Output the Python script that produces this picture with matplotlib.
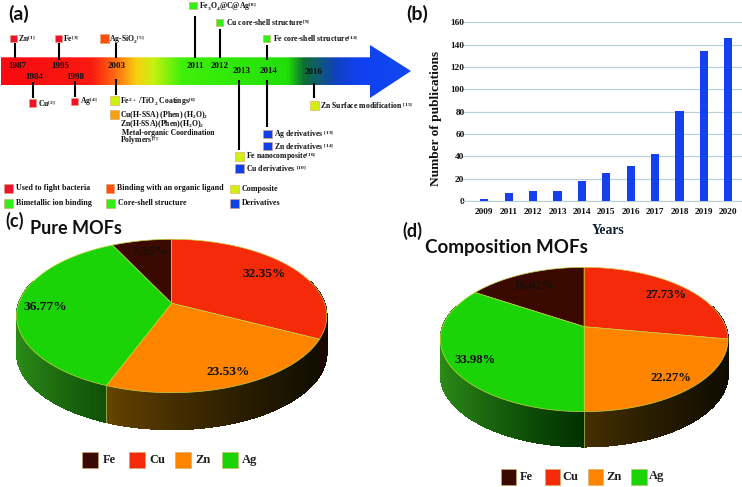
import numpy as np
import matplotlib
import matplotlib.pyplot as plt
from matplotlib.colors import LinearSegmentedColormap, to_rgb
from matplotlib.patches import Polygon, Rectangle
matplotlib.use('Agg')

plt.rcParams['font.family'] = ['Liberation Serif', 'DejaVu Serif']
plt.rcParams['font.weight'] = 'bold'
plt.rcParams['mathtext.fontset'] = 'custom'
plt.rcParams['mathtext.default'] = 'regular'
plt.rcParams['mathtext.rm'] = 'Liberation Serif:bold'
plt.rcParams['mathtext.bf'] = 'Liberation Serif:bold'

# publications per year
years = ['2009', '2011', '2012', '2013', '2014', '2015', '2016', '2017', '2018', '2019', '2020']
publications = [2, 7, 9, 9, 18, 25, 31, 42, 81, 134, 146]

# pie shares, Fe ends at the top of the pie and the rest go clockwise from there
metals = ['Fe', 'Cu', 'Zn', 'Ag']
pure_mofs = [7.35, 32.35, 23.53, 36.77]
composition_mofs = [16.02, 27.73, 22.27, 33.98]

# categories of the timeline
legend_labels = ['Used to fight bacteria', 'Binding with an organic ligand', 'Composite',
                 'Bimetallic ion binding', 'Core-shell structure', 'Derivatives']

RED = '#f01030'
ORANGE = '#ff5010'
LIME = '#d0f010'
GREEN = '#30f018'
BLUE = '#1040e8'
metal_colors = ['#3a0a00', '#f52a08', '#ff8400', '#1ad408']

fig = plt.figure(figsize=(7.42, 4.87), dpi=100)
ax = fig.add_axes([0, 0, 1, 1])
ax.set_xlim(0, 742)
ax.set_ylim(487, 0)
ax.axis('off')


def small(x, y, s, size=5.6):
    ax.text(x, y, s, fontsize=size, ha='left', va='center', color='#101010')


def square(x, y, color, size=7.5):
    ax.add_patch(Rectangle((x - size / 2, y - size / 2), size, size, fc=color,
                           ec='#e0a060', lw=0.4, zorder=4))


def stem(x, y0, y1):
    ax.plot([x, x], [y0, y1], color='black', lw=1.5, solid_capstyle='butt', zorder=3)


# arrow with the colour gradient
arrow = Polygon([(1, 57.3), (370, 57.3), (370, 45), (411, 71), (370, 98), (370, 85), (1, 85)],
                closed=True, fc='none', ec='none')
ax.add_patch(arrow)
arrow_cmap = LinearSegmentedColormap.from_list('arrow', [
    (0.0, '#f80a10'), (0.22, '#fa1a10'), (0.28, '#ff7010'), (0.33, '#f8d010'),
    (0.37, '#c8f010'), (0.44, '#40f008'), (0.70, '#20e008'), (0.74, '#0f7030'),
    (0.82, '#1040c0'), (0.87, '#1040f0'), (1.0, '#1048f0')])
grad = ax.imshow(np.linspace(0, 1, 400).reshape(1, -1), extent=(1, 411, 98, 45), cmap=arrow_cmap,
                 aspect='auto', zorder=1)
grad.set_clip_path(arrow)
ax.set_xlim(0, 742)
ax.set_ylim(487, 0)

for s, x, y in [('1987', 17.3, 65.7), ('1995', 60, 65.7), ('2003', 116.5, 65.7), ('2011', 195, 65.7),
                ('2012', 219.5, 65.7), ('1984', 34.7, 76.7), ('1998', 75.3, 77), ('2013', 241.7, 71.3),
                ('2014', 268.3, 71.3), ('2016', 313.3, 72)]:
    ax.text(x, y, s, fontsize=6.5, ha='center', va='center', color='#101010', zorder=5)

stem(14.7, 43, 58)
stem(59, 43, 60)
stem(115.7, 43, 58)
stem(195, 16, 58)
stem(219.7, 29, 58)
stem(267.3, 45, 60)
stem(33, 82, 98)
stem(75.3, 81, 97)
stem(115.7, 79, 95)
stem(239, 80, 150)
stem(267.3, 80, 127)
stem(314.3, 83, 98)

square(13.3, 38.7, RED)
small(18.3, 39, r'Zn$^{[1]}$')
square(58.3, 38.7, RED)
small(63.3, 39, r'Fe$^{[3]}$')
square(104.3, 38.7, ORANGE, 8.5)
small(109.3, 39, r'Ag-SiO$_2$$^{[5]}$')
square(193, 5.5, GREEN)
small(199.3, 6.7, r'Fe$_3$O$_4$@C@Ag$^{[8]}$')
square(219.7, 22.7, GREEN)
small(225.7, 22.7, r'Cu core-shell structure$^{[9]}$')
square(266.7, 38.7, GREEN)
small(272.7, 39, r'Fe core-shell structure$^{[12]}$')
square(32.3, 103, RED)
small(37.7, 103.5, r'Cu$^{[2]}$')
square(74.7, 101.3, RED)
small(79.7, 101.5, r'Ag$^{[4]}$')
square(114.3, 100.7, LIME, 8.5)
small(120, 101.5, r'Fe$^{2+}$ /TiO$_2$ Coatings$^{[6]}$')
square(114.7, 114.3, '#f5a010', 8.5)
small(120, 115, r'Cu(H-SSA) (Phen) (H$_2$O)$_2$')
small(120, 123.8, r'Zn(H-SSA)(Phen)(H$_2$O)$_2$')
small(122, 132.7, 'Metal-organic Coordination')
small(120, 140.7, r'Polymers$^{[7]}$')
square(239, 156, LIME, 9)
small(245.7, 156.5, r'Fe nanocomposite$^{[10]}$')
square(239, 168.3, BLUE, 9)
small(245.7, 168.5, r'Cu derivatives $^{[10]}$')
square(267.7, 134, BLUE, 8.5)
small(274, 134.7, r'Ag derivatives $^{[13]}$')
square(267.7, 146, BLUE, 8.5)
small(274, 146.3, r'Zn derivatives $^{[14]}$')
square(314.3, 105.3, LIME, 8.5)
small(320.3, 105.5, r'Zn Surface modification $^{[15]}$')

# category legend under the arrow
legend_colors = [RED, ORANGE, LIME, GREEN, GREEN, BLUE]
legend_x = [8.3, 110, 234.7, 8.3, 110.3, 234.7]
legend_y = [188.3, 188.3, 189, 203.3, 203.3, 203.3]
for s, c, x, y in zip(legend_labels, legend_colors, legend_x, legend_y):
    square(x, y, c, 8.5)
    small(x + 7.2, y, s, 5.8)


def blend(c0, c1, t):
    a, b = np.array(to_rgb(c0)), np.array(to_rgb(c1))
    return a + (b - a) * t


def side_color(metal, f):
    # f is the place across the pie, 0 left edge, 1 right edge
    if metal == 'Ag':
        return blend('#2c8c18', '#003000', min(f / 0.5, 1) ** 0.8)
    if metal == 'Zn':
        return blend('#a06800', '#0e0c00', max((f - 0.1) / 0.9, 0) ** 0.6)
    return '#1a0800'


def pie3d(shares, cx, cy, a, b, k, depth):
    # circle seen in perspective, far side squeezed by k
    def rim(theta):
        w = 1 + k * np.cos(theta)
        return cx + a * np.sin(theta) / w, cy - b * np.cos(theta) / w

    edges = np.radians((np.cumsum([0] + list(shares)) - shares[0]) / sum(shares) * 360)
    half = a / np.sqrt(1 - k * k)
    # side wall first, then the top face covers what is hidden
    for i in range(len(shares)):
        th = np.linspace(edges[i], edges[i + 1], 160)
        vis = th[(th > np.pi * 0.4) & (th < np.pi * 1.6)]
        for j in range(len(vis) - 1):
            x0, y0 = rim(vis[j])
            x1, y1 = rim(vis[j + 1])
            c = side_color(metals[i], (x0 - (cx - half)) / (2 * half))
            ax.add_patch(Polygon([(x0, y0), (x1, y1), (x1, y1 + depth), (x0, y0 + depth)], closed=True,
                                 fc=c, ec=c, lw=0.5, antialiased=False, zorder=2))
    x, y = rim(edges[3])
    ax.plot([x, x], [y, y + depth], color='#c8c850', lw=0.5, zorder=2.5)
    for i in range(len(shares)):
        th = np.linspace(edges[i], edges[i + 1], 120)
        xs, ys = rim(th)
        pts = [(cx, cy)] + list(zip(xs, ys))
        ax.add_patch(Polygon(pts, closed=True, fc=metal_colors[i], ec='#c8d040', lw=0.5, zorder=3))


pie3d(pure_mofs, 171.7, 303.3, 152.9, 74.6, 0.1656, 36.7)
pie3d(composition_mofs, 584.2, 326.7, 141.5, 69.9, 0.1773, 35)

for v, x, y in zip(pure_mofs, [149.3, 264, 228, 45], [252.3, 274.3, 372.3, 307]):
    ax.text(x, y, f'{v:.2f}%', fontsize=9.6, ha='center', va='center', color='#101010', zorder=6)
for v, x, y in zip(composition_mofs, [535, 666, 671.3, 474.7], [286, 295, 378.3, 360]):
    ax.text(x, y, f'{v:.2f}%', fontsize=9.2, ha='center', va='center', color='#101010', zorder=6)

# metal legends
for i, m in enumerate(metals):
    x = [82, 128.5, 175, 222][i]
    ax.add_patch(Rectangle((x, 451.7), 16, 16.3, fc=metal_colors[i], ec='#d0b060', lw=0.4))
    ax.text([102.7, 149, 195.7, 242][i], 460, m, fontsize=9, ha='left', va='center', color='#202020')
    x = [500.7, 544.5, 587.7, 631][i]
    ax.add_patch(Rectangle((x, 469.3), 15.5, 15.7, fc=metal_colors[i], ec='#d0b060', lw=0.4))
    ax.text([520, 562.7, 606.7, 649.3][i], 476.5, m, fontsize=9, ha='left', va='center', color='#202020')

# panel letters and pie titles
for s, x, y, size in [('(a)', 8, 14, 14), ('(b)', 406.5, 14, 14), ('(c)', 5, 221, 13), ('(d)', 402, 231, 13),
                      ('Pure MOFs', 30, 229, 13), ('Composition MOFs', 425, 247.5, 13.5)]:
    ax.text(x, y, s, family=['Lato', 'DejaVu Sans'], fontsize=size, fontweight='bold',
            ha='left', va='center', color='#101010')

# bar chart
bx = fig.add_axes([463 / 742, 1 - 201 / 487, 278.5 / 742, 178.7 / 487])
bx.patch.set_alpha(0)
bx.bar(np.arange(len(years)), publications, width=0.34, color='#1440f0', zorder=3)
bx.set_xlim(-0.873, 10.54)
bx.set_ylim(0, 160)
bx.set_yticks(np.arange(0, 161, 20))
bx.set_xticks(np.arange(len(years)))
bx.set_xticklabels(years)
bx.tick_params(length=0, labelsize=6.7, colors='#101010')
bx.tick_params(axis='x', pad=5)
bx.tick_params(axis='y', pad=-1)
bx.grid(axis='y', color='#b8d0d8', lw=0.9, zorder=0)
for s in bx.spines.values():
    s.set_visible(False)
bx.spines['bottom'].set_visible(True)
bx.spines['bottom'].set_color('#b8d0d8')
ax.text(436.5, 118, 'Number of publications', rotation=90, fontsize=9.6, ha='center', va='center', color='#101010')
ax.text(608, 230, 'Years', fontsize=9.8, ha='center', va='center', color='#102030')

plt.savefig('out.png', dpi=100)
plt.close('all')
